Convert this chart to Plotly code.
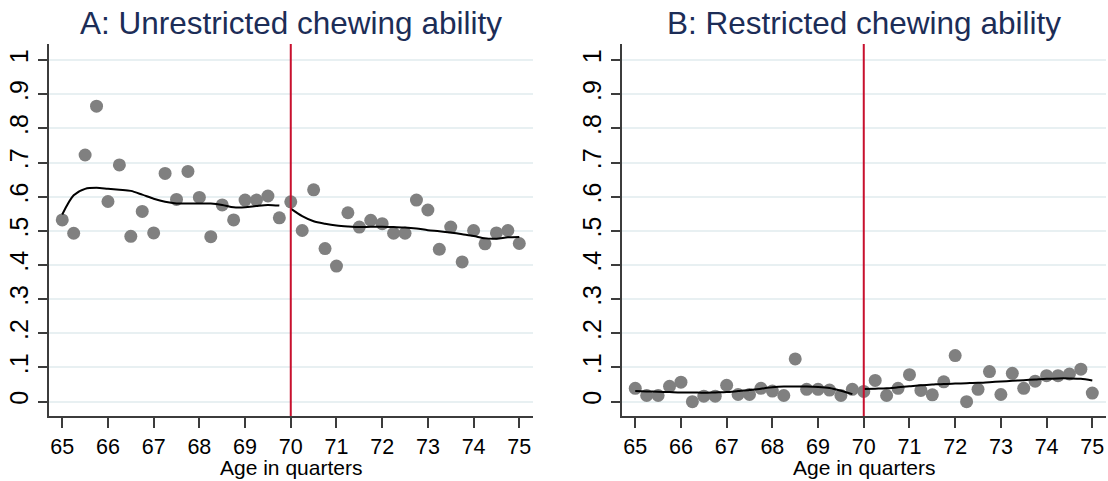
import plotly.graph_objects as go

# ---- data ----
quarters = [65 + 0.25 * i for i in range(41)]

share_unrestricted = [
    0.532, 0.493, 0.722, 0.865, 0.586, 0.693, 0.484, 0.557, 0.494, 0.668,
    0.592, 0.674, 0.598, 0.483, 0.576, 0.532, 0.590, 0.590, 0.602, 0.538,
    0.585, 0.501, 0.620, 0.448, 0.397, 0.553, 0.511, 0.531, 0.521, 0.493,
    0.493, 0.590, 0.561, 0.446, 0.511, 0.409, 0.501, 0.462, 0.494, 0.501,
    0.463,
]
share_restricted = [
    0.039, 0.018, 0.018, 0.045, 0.057, 0.000, 0.016, 0.016, 0.048, 0.021,
    0.021, 0.039, 0.031, 0.018, 0.125, 0.036, 0.036, 0.034, 0.018, 0.036,
    0.030, 0.062, 0.018, 0.039, 0.079, 0.033, 0.020, 0.058, 0.135, 0.000,
    0.036, 0.088, 0.021, 0.083, 0.039, 0.060, 0.076, 0.076, 0.081, 0.095,
    0.025,
]

pre_quarters = [65 + 0.25 * i for i in range(20)]          # 65 .. 69.75
post_quarters = [70 + 0.25 * i for i in range(21)]         # 70 .. 75

smooth_a_pre = [0.548, 0.604, 0.623, 0.626, 0.623, 0.620, 0.617, 0.606, 0.594, 0.585,
                0.580, 0.580, 0.580, 0.580, 0.576, 0.569, 0.569, 0.573, 0.576, 0.574]
smooth_a_post = [0.565, 0.543, 0.528, 0.521, 0.516, 0.513, 0.511, 0.512, 0.512, 0.511,
                 0.510, 0.507, 0.502, 0.499, 0.495, 0.490, 0.485, 0.478, 0.477, 0.481,
                 0.482]
smooth_b_pre = [0.031, 0.030, 0.029, 0.028, 0.027, 0.027, 0.026, 0.027, 0.028, 0.031,
                0.034, 0.038, 0.042, 0.044, 0.044, 0.044, 0.043, 0.040, 0.032, 0.022]
smooth_b_post = [0.037, 0.038, 0.039, 0.042, 0.045, 0.048, 0.050, 0.052, 0.053, 0.054,
                 0.055, 0.057, 0.059, 0.061, 0.063, 0.065, 0.067, 0.068, 0.068, 0.067,
                 0.062]

cutoff = 70
x_ticks = list(range(65, 76))
y_tickvals = [0, 0.1, 0.2, 0.3, 0.4, 0.5, 0.6, 0.7, 0.8, 0.9, 1.0]
y_ticktext = ["0", ".1", ".2", ".3", ".4", ".5", ".6", ".7", ".8", ".9", "1"]
panel_titles = ["A: Unrestricted chewing ability", "B: Restricted chewing ability"]
x_title = "Age in quarters"

# ---- style ----
W, H = 1108, 481
FONT = "Liberation Sans, Arial, sans-serif"
MARKER = "#808080"
RED = "#c8102e"
GRID = "#e8f0f2"
AXIS = "#3c3c3c"
TITLE_C = "#1c2d57"

dom_a = [49 / W, 533 / W]
dom_b = [622 / W, 1106 / W]
dom_y = [(H - 416) / H, (H - 44) / H]
x_range = [64.71, 75.3]
y_range = [-0.042, 1.047]

fig = go.Figure()

panels = [
    ("x", "y", share_unrestricted, smooth_a_pre, smooth_a_post),
    ("x2", "y2", share_restricted, smooth_b_pre, smooth_b_post),
]
for xa, ya, pts, spre, spost in panels:
    fig.add_trace(go.Scatter(x=quarters, y=pts, mode="markers", xaxis=xa, yaxis=ya,
                             marker=dict(color=MARKER, size=13, line=dict(width=0)),
                             showlegend=False))
    fig.add_trace(go.Scatter(x=pre_quarters, y=spre, mode="lines", xaxis=xa, yaxis=ya,
                             line=dict(color="black", width=2, shape="spline", smoothing=0.8),
                             showlegend=False))
    fig.add_trace(go.Scatter(x=post_quarters, y=spost, mode="lines", xaxis=xa, yaxis=ya,
                             line=dict(color="black", width=2, shape="spline", smoothing=0.8),
                             showlegend=False))
    fig.add_trace(go.Scatter(x=[cutoff, cutoff], y=y_range, mode="lines", xaxis=xa, yaxis=ya,
                             line=dict(color=RED, width=2), showlegend=False))

xaxis_common = dict(range=x_range, tickvals=x_ticks, ticks="outside", ticklen=10,
                    tickwidth=1.5, tickcolor=AXIS, showline=True, linecolor=AXIS,
                    linewidth=1.5, showgrid=False, zeroline=False, ticklabelstandoff=0,
                    tickfont=dict(size=21.5, color="black", family=FONT))
yaxis_common = dict(range=y_range, tickvals=y_tickvals, ticktext=y_ticktext,
                    ticks="outside", ticklen=9, tickwidth=1.5, tickcolor=AXIS,
                    showline=True, linecolor=AXIS, linewidth=1.5, showgrid=True,
                    gridcolor=GRID, gridwidth=1.5, zeroline=False, tickangle=-90,
                    tickfont=dict(size=25, color="black", family=FONT), domain=dom_y)

annotations = []
for dom, title in zip([dom_a, dom_b], panel_titles):
    cx = (dom[0] + dom[1]) / 2
    annotations.append(dict(text=title, x=cx, y=1 - 23 / H, xref="paper", yref="paper",
                            showarrow=False, xanchor="center", yanchor="middle",
                            font=dict(size=31.5, color=TITLE_C, family=FONT)))
    annotations.append(dict(text=x_title, x=cx, y=0, xref="paper", yref="paper",
                            showarrow=False, xanchor="center", yanchor="bottom",
                            font=dict(size=21, color="black", family=FONT)))

fig.update_layout(
    width=W, height=H, margin=dict(l=0, r=0, t=0, b=0),
    paper_bgcolor="white", plot_bgcolor="white",
    font=dict(family=FONT),
    xaxis=dict(domain=dom_a, anchor="y", **xaxis_common),
    yaxis=dict(anchor="x", **yaxis_common),
    xaxis2=dict(domain=dom_b, anchor="y2", **xaxis_common),
    yaxis2=dict(anchor="x2", **yaxis_common),
    annotations=annotations,
)

fig.write_html("out.html")
